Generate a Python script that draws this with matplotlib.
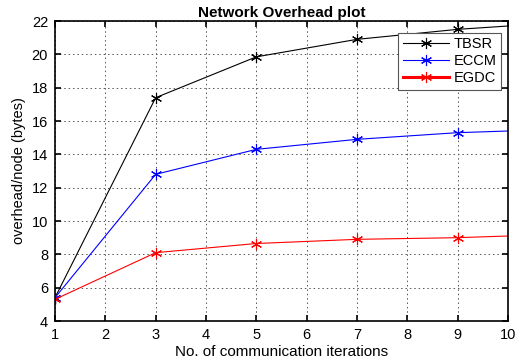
import matplotlib
matplotlib.use("Agg")
import matplotlib.pyplot as plt

plt.rcParams['font.family'] = ['Liberation Sans', 'DejaVu Sans']

iterations = [1, 3, 5, 7, 9, 10]
tbsr = [5.4, 17.4, 19.85, 20.9, 21.5, 21.7]
eccm = [5.4, 12.8, 14.3, 14.9, 15.3, 15.4]
egdc = [5.3, 8.1, 8.65, 8.9, 9.0, 9.1]

x_ticks = list(range(1, 11))
y_ticks = list(range(4, 23, 2))

fig = plt.figure(figsize=(5.16, 3.61), dpi=100)
ax = fig.add_axes([0.1066, 0.1108, 0.8779, 0.8310])

marks = [0, 1, 2, 3, 4]
series = [("TBSR", tbsr, "black"), ("ECCM", eccm, "blue"), ("EGDC", egdc, "red")]
for name, vals, col in series:
    ax.plot(iterations, vals, color=col, lw=0.8, marker=(6, 2, 0),
            markersize=8, markeredgewidth=0.8, markevery=marks, label=name)

ax.set_xlim(1, 10)
ax.set_ylim(4, 22)
ax.set_xticks(x_ticks)
ax.set_yticks(y_ticks)
ax.tick_params(direction='in', top=True, right=True, length=4, width=1.2,
               labelsize=10.5, pad=5)
ax.grid(True, linestyle=(0, (1.5, 3)), color='#555555', linewidth=0.7)
for s in ax.spines.values():
    s.set_linewidth(1.2)

ax.set_title("Network Overhead plot", fontsize=11, fontweight='bold', pad=3)
ax.set_xlabel("No. of communication iterations", fontsize=11, labelpad=2)
ax.set_ylabel("overhead/node (bytes)", fontsize=10.5, labelpad=4)

leg = ax.legend(loc='upper right', bbox_to_anchor=(0.985, 0.96), fontsize=10.5,
                fancybox=False, edgecolor='#555555', framealpha=1.0,
                handlelength=3.2, borderpad=0.3, labelspacing=0.2,
                handletextpad=0.3, borderaxespad=0.0)
leg.get_frame().set_linewidth(0.8)
leg_lines = leg.get_lines()
leg_lines[2].set_linewidth(2.2)

fig.savefig("out.png", dpi=100)
